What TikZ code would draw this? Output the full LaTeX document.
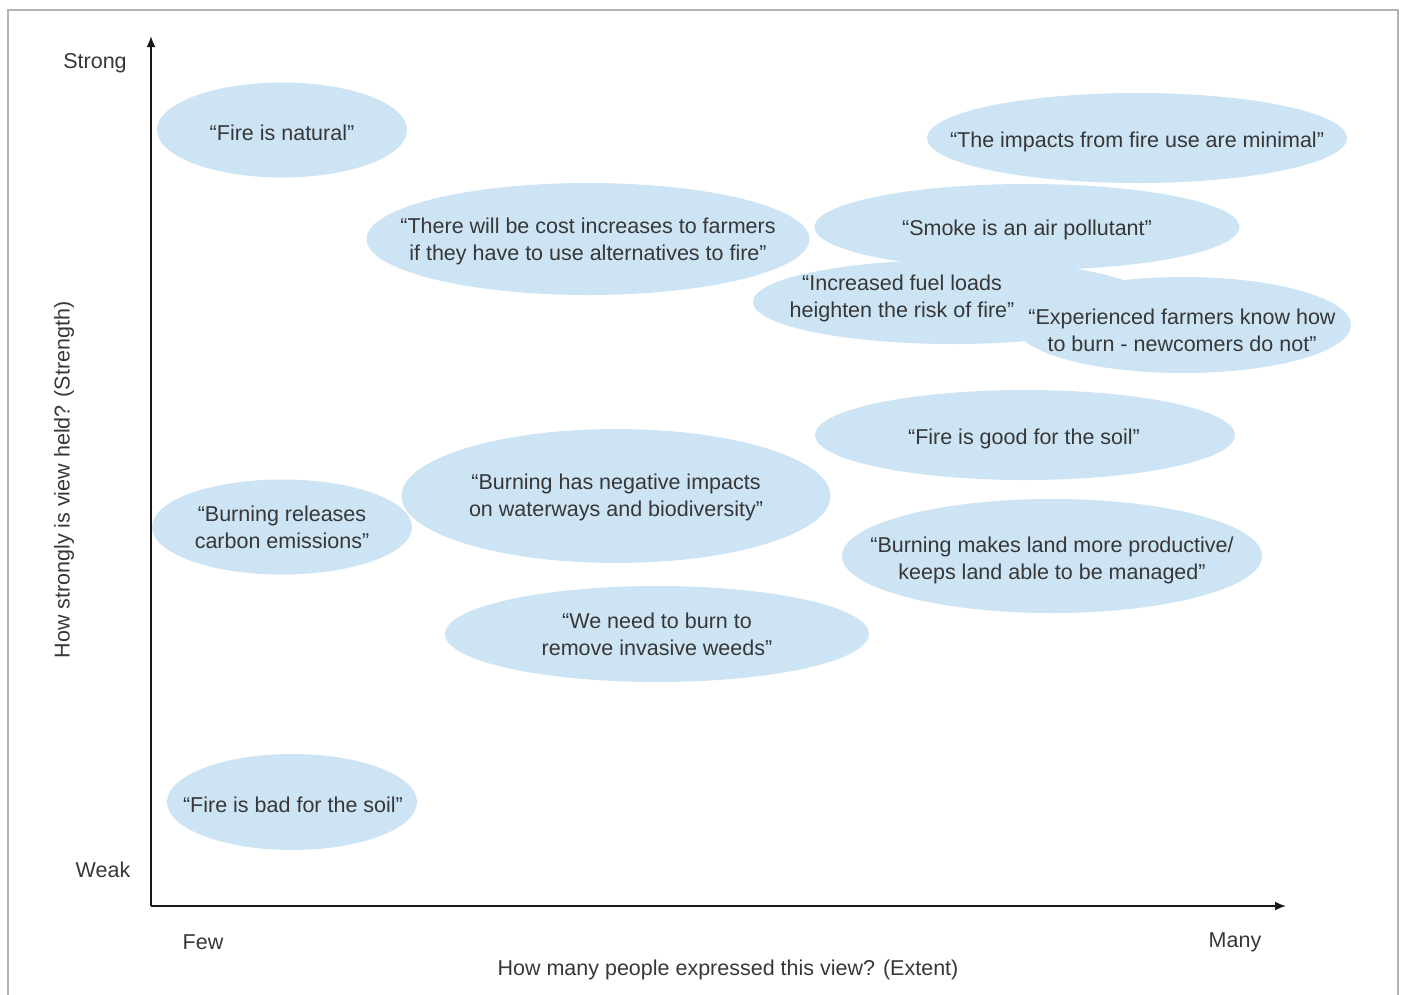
\documentclass[tikz,border=0pt]{standalone}
\usepackage{fontspec}
\setmainfont{Liberation Sans}
\usetikzlibrary{arrows.meta,shapes.geometric}
\definecolor{bubble}{RGB}{205,228,245}
\definecolor{txt}{RGB}{55,55,55}
\definecolor{frame}{RGB}{180,180,180}
\begin{document}
\begin{tikzpicture}[x=1pt,y=-1pt,
  bub/.style={ellipse,fill=bubble,draw=none,inner sep=0pt,minimum width=#1},
  quote/.style={text=txt,align=center,font=\fontsize{21.5}{27}\selectfont,inner sep=0pt},
  lab/.style={text=txt,font=\fontsize{21.5}{27}\selectfont,inner sep=0pt},
  axis/.style={line width=1.8pt,draw=black!90,-{Latex[length=11pt,width=9pt]}}]
\useasboundingbox (0,0) rectangle (1403,994);
% frame
\draw[frame,line width=1.2pt] (8,1000) -- (8,10) -- (1398,10) -- (1398,1000);
% bubbles
\node[bub=250pt,minimum height=95pt] (e1) at (282,130) {};
\node[bub=420pt,minimum height=90pt] (e2) at (1137,138) {};
\node[bub=443pt,minimum height=112pt] (e3) at (588,239) {};
\node[bub=425pt,minimum height=86pt] (e4) at (1027,227) {};
\node[bub=400pt,minimum height=84pt] (e5) at (953,302) {};
\node[bub=336pt,minimum height=96pt] (e6) at (1183,325) {};
\node[bub=420pt,minimum height=90pt] (e7) at (1025,435) {};
\node[bub=260pt,minimum height=95pt] (e8) at (282,527) {};
\node[bub=429pt,minimum height=134pt] (e9) at (616,496) {};
\node[bub=420pt,minimum height=114pt] (e10) at (1052,556) {};
\node[bub=424pt,minimum height=96pt] (e11) at (657,634) {};
\node[bub=250pt,minimum height=96pt] (e12) at (292,802) {};
% texts
\node[quote] (t1) at (282,133) {“Fire is natural”};
\node[quote] (t2) at (1137,142) {“The impacts from fire use are minimal”};
\node[quote] (t3) at (588,241) {“There will be cost increases to farmers\\if they have to use alternatives to fire”};
\node[quote] (t4) at (1027,230) {“Smoke is an air pollutant”};
\node[quote] (t5) at (902,298) {“Increased fuel loads\\heighten the risk of fire”};
\node[quote] (t6) at (1182,330) {“Experienced farmers know how\\to burn - newcomers do not”};
\node[quote] (t7) at (1024,439) {“Fire is good for the soil”};
\node[quote] (t8) at (282,527) {“Burning releases\\carbon emissions”};
\node[quote] (t9) at (616,497) {“Burning has negative impacts\\on waterways and biodiversity”};
\node[quote] (t10) at (1052,560) {“Burning makes land more productive/\\keeps land able to be managed”};
\node[quote] (t11) at (657,634) {“We need to burn to\\remove invasive weeds”};
\node[quote] (t12) at (293,805) {“Fire is bad for the soil”};
% axes
\coordinate (o) at (151,906);
\coordinate (ytop) at (151,36);
\coordinate (xend) at (1286,906);
\draw[axis] (o) -- (ytop);
\draw[axis] (o) -- (xend);
% axis labels
\node[lab] (strong) at (95,63) {Strong};
\node[lab] (weak) at (103,870) {Weak};
\node[lab] (few) at (203,942) {Few};
\node[lab] (many) at (1235,942) {Many};
\node[lab] (xt) at (728,970) {How many people expressed this view? (Extent)};
\node[lab,rotate=90] (yt) at (64,480) {How strongly is view held? (Strength)};
\end{tikzpicture}
\end{document}
